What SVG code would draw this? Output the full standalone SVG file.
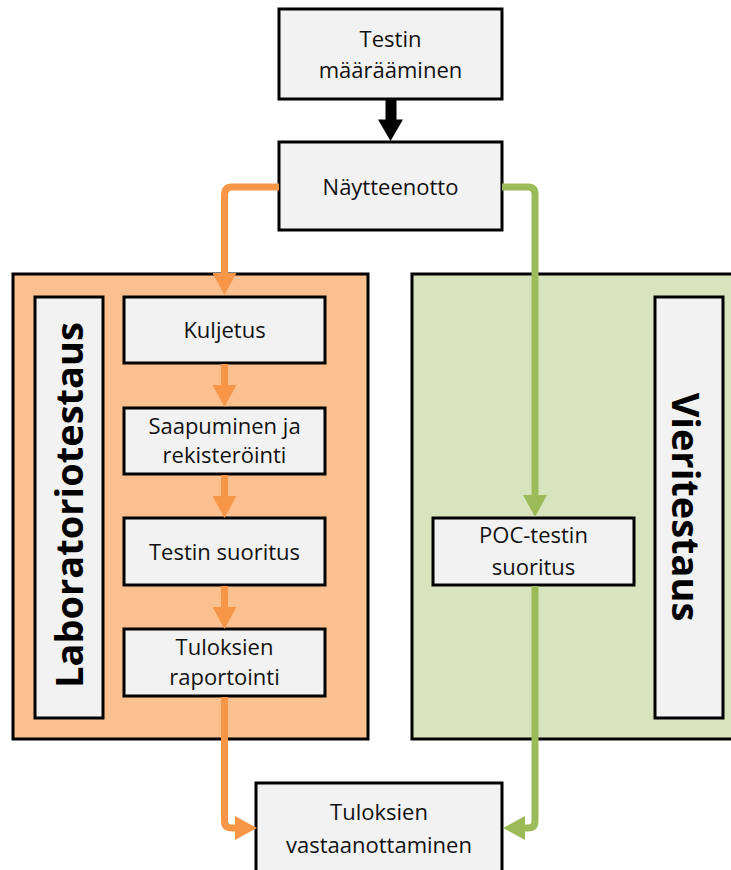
<svg xmlns="http://www.w3.org/2000/svg" width="731" height="870" viewBox="0 0 731 870">
<style>
.box{fill:#F2F2F2;stroke:#000;stroke-width:3;}
.lab{fill:#FAC090;stroke:#000;stroke-width:3;}
.poc{fill:#D7E4BD;stroke:#000;stroke-width:3;}
.t{font-family:"Open Sans","Noto Sans",sans-serif;font-size:22px;fill:#111;text-anchor:middle;}
.big{font-family:"Open Sans","Noto Sans",sans-serif;font-size:38px;font-weight:bold;fill:#000;text-anchor:middle;}
.or{fill:none;stroke:#F79646;stroke-width:7;stroke-linejoin:round;marker-end:url(#ho);}
.gr{fill:none;stroke:#9BBB59;stroke-width:7;stroke-linejoin:round;marker-end:url(#hg);}
</style>
<defs>
<marker id="ho" markerUnits="userSpaceOnUse" viewBox="0 -12 22 24" markerWidth="22" markerHeight="24" refX="0" refY="0" orient="auto"><path d="M0,-12L22,0L0,12z" fill="#F79646"/></marker>
<marker id="hg" markerUnits="userSpaceOnUse" viewBox="0 -12 22 24" markerWidth="22" markerHeight="24" refX="0" refY="0" orient="auto"><path d="M0,-12L22,0L0,12z" fill="#9BBB59"/></marker>
</defs>
<g id="laboratoriotestaus">
<rect class="lab" x="13" y="274" width="355" height="465"/>
<rect class="box" x="35" y="297" width="68" height="421"/>
<text class="big" transform="translate(83,505) rotate(-90)">Laboratoriotestaus</text>
</g>
<g id="vieritestaus">
<rect class="poc" x="412" y="274" width="330" height="465"/>
<rect class="box" x="655" y="297" width="68" height="421"/>
<text class="big" transform="translate(672,507) rotate(90)">Vieritestaus</text>
</g>
<g id="testin-maaraaminen">
<rect class="box" x="279" y="9" width="223" height="90"/>
<text class="t" x="390.5" y="47">Testin</text>
<text class="t" x="390.5" y="78">määrääminen</text>
</g>
<g id="naytteenotto">
<rect class="box" x="279" y="142" width="223" height="88"/>
<text class="t" x="390.5" y="195">Näytteenotto</text>
</g>
<g id="kuljetus">
<rect class="box" x="124" y="297" width="201" height="66"/>
<text class="t" x="224.5" y="338">Kuljetus</text>
</g>
<g id="saapuminen">
<rect class="box" x="124" y="408" width="201" height="66"/>
<text class="t" x="224.5" y="434">Saapuminen ja</text>
<text class="t" x="224.5" y="463">rekisteröinti</text>
</g>
<g id="testin-suoritus">
<rect class="box" x="124" y="518" width="201" height="67"/>
<text class="t" x="224.5" y="560">Testin suoritus</text>
</g>
<g id="tuloksien-raportointi">
<rect class="box" x="124" y="629" width="201" height="67"/>
<text class="t" x="224.5" y="655">Tuloksien</text>
<text class="t" x="224.5" y="685">raportointi</text>
</g>
<g id="poc-testin-suoritus">
<rect class="box" x="433" y="518" width="201" height="67"/>
<text class="t" x="533.5" y="543">POC-testin</text>
<text class="t" x="533.5" y="575">suoritus</text>
</g>
<g id="tuloksien-vastaanottaminen">
<rect class="box" x="256" y="783" width="246" height="100"/>
<text class="t" x="379" y="820">Tuloksien</text>
<text class="t" x="379" y="853">vastaanottaminen</text>
</g>
<g id="connectors">
<rect x="385.5" y="99" width="11" height="21" fill="#000"/>
<path d="M378,119.5L403,119.5L390.5,141z" fill="#000"/>
<path class="or" d="M279,187H232Q224.5,187 224.5,195V273"/>
<path class="or" d="M224.5,364V385"/>
<path class="or" d="M224.5,475V496"/>
<path class="or" d="M224.5,586V607"/>
<path class="or" d="M224.5,697V821Q224.5,828 232,828H235"/>
<path class="gr" d="M502,187H528Q535,187 535,194V495"/>
<path class="gr" d="M535,586V821Q535,828 528,828H525"/>
</g>
</svg>
